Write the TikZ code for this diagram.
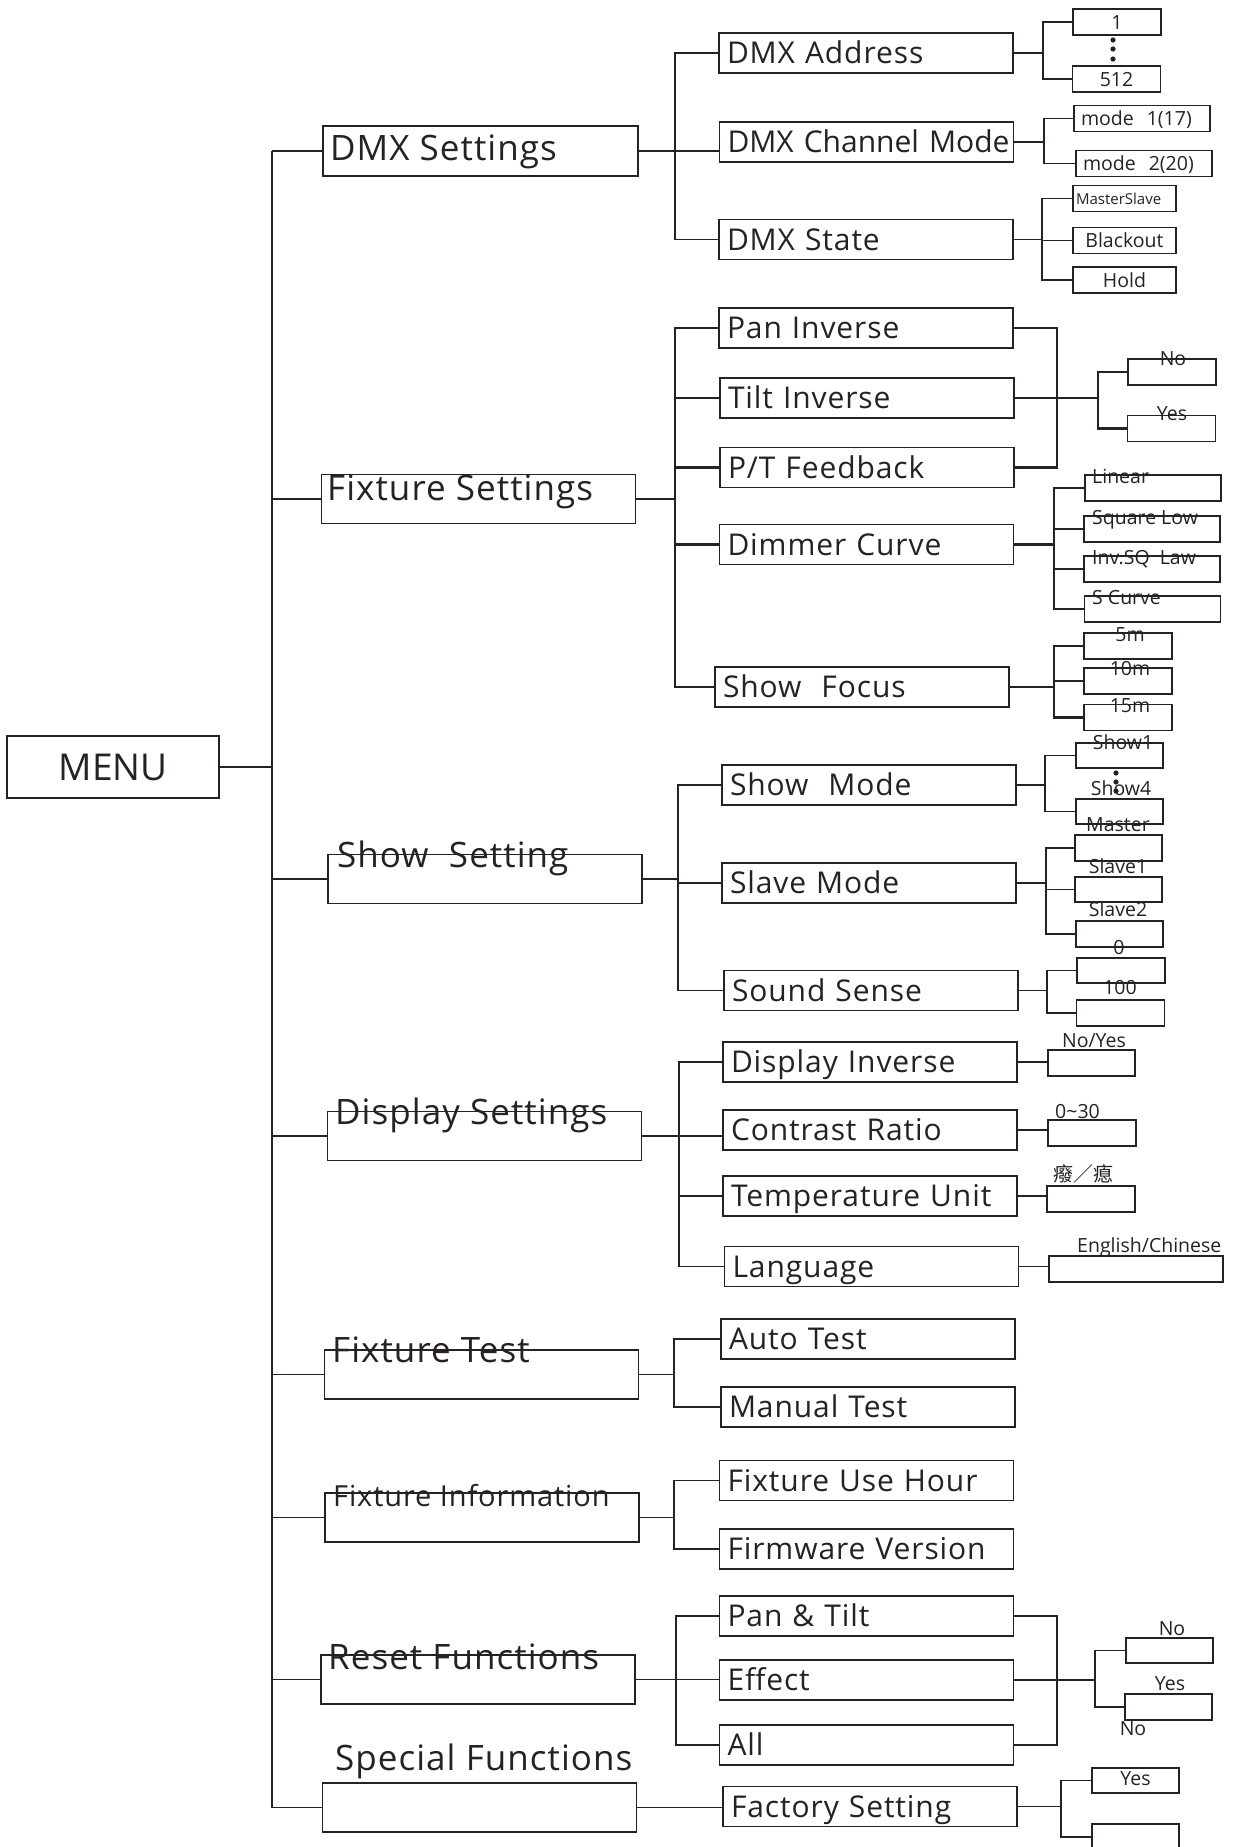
\documentclass[tikz,border=0pt]{standalone}
\usepackage{fontspec}
\setmainfont{Open Sans}
\newfontfamily\cjk{Noto Sans CJK SC}
\newfontfamily\trackfont[LetterSpace=3]{Open Sans}
\definecolor{ink}{RGB}{38,33,34}

\newcommand{\valfont}{\fontsize{19.5}{23}\selectfont}
\newcommand{\grpfont}{\trackfont\fontsize{35}{42}\selectfont}
\newcommand{\itemfont}{\trackfont\fontsize{30}{36}\selectfont}

\tikzset{
  menubox/.style={draw, line width=1.8pt, minimum width=212pt, minimum height=62pt, inner sep=0pt, font=\fontsize{37}{44}\selectfont},
  grpbox/.style={draw, line width=1.8pt, minimum width=314pt, minimum height=49pt, inner sep=0pt},
  grptext/.style={anchor=west, inner sep=0pt, text height=25pt, text depth=0pt, font=\grpfont},
  itembox/.style={draw, line width=1.8pt, minimum width=294pt, minimum height=40pt, text width=278pt, inner xsep=8pt, inner ysep=0pt, align=left, text height=21pt, text depth=0pt, font=\itemfont},
  valbox/.style={draw, line width=1.6pt, minimum width=88pt, minimum height=26pt, inner sep=0pt, text height=14pt, text depth=0pt, font=\valfont},
  widebox/.style={valbox, minimum width=136pt, text width=122pt, inner xsep=7pt, align=left},
  valtext/.style={inner sep=0pt, text height=14pt, text depth=0pt, font=\valfont},
  wire/.style={line width=1.8pt},
  bold wire/.style={line width=2.8pt},
}

\begin{document}
\begin{tikzpicture}[x=1pt, y=-1pt, color=ink]
    \useasboundingbox (0,0) rectangle (1234,1847);

    % root and first level
    \node[menubox] (menu) at (113,767) {MENU};
    \coordinate (trunk) at (272,0);

    \node[grpbox, minimum width=315pt, minimum height=50pt] (dmx) at (480.5,151) {};
    \node[grpbox] (fix)     at (478.5,499) {};
    \node[grpbox] (show)    at (485,879) {};
    \node[grpbox] (disp)    at (484.5,1136) {};
    \node[grpbox] (test)    at (481.5,1374.5) {};
    \node[grpbox] (info)    at (482,1517.5) {};
    \node[grpbox] (reset)   at (478,1679.5) {};
    \node[grpbox] (special) at (479.5,1807.5) {};

    \node[grptext] (dmxlbl)     at (330,148)  {DMX Settings};
    \node[grptext] (fixlbl)     at (327,488)  {Fixture Settings};
    \node[grptext] (showlbl)    at (337,855)  {Show\ \ Setting};
    \node[grptext] (displbl)    at (335,1112) {Display Settings};
    \node[grptext] (testlbl)    at (332,1350) {Fixture Test};
    \node[grptext, text height=21pt, font=\trackfont\fontsize{29}{35}\selectfont] (infolbl) at (333,1496) {Fixture Information};
    \node[grptext] (resetlbl)   at (328,1657) {Reset Functions};
    \node[grptext] (speciallbl) at (335,1758) {Special Functions};

    \draw[bold wire] (menu.east) -- (menu.east -| trunk);
    \draw[wire] (dmx.west -| trunk) -- (special.west -| trunk);
    \draw[wire] (dmx.west) -- (dmx.west -| trunk);
    \draw[wire] (fix.west) -- (fix.west -| trunk);
    \draw[wire] (show.west) -- (show.west -| trunk);
    \draw[wire] (disp.west) -- (disp.west -| trunk);
    \draw[wire] (test.west) -- (test.west -| trunk);
    \draw[wire] (info.west) -- (info.west -| trunk);
    \draw[wire] (reset.west) -- (reset.west -| trunk);
    \draw[wire] (special.west) -- (special.west -| trunk);

    % second level
    \node[itembox] (addr)   at (866,53)    {DMX Address};
    \node[itembox, font=\fontsize{30}{36}\selectfont] (chmode) at (866.5,142) {\mbox{DMX Channel Mode}};
    \node[itembox] (state)  at (866,239.5) {DMX State};

    \node[itembox] (pan)    at (866,328)   {Pan Inverse};
    \node[itembox] (tilt)   at (867,398)   {Tilt Inverse};
    \node[itembox] (ptfb)   at (867,467.5) {P/T Feedback};
    \node[itembox] (dimmer) at (866.5,544.5) {Dimmer Curve};
    \node[itembox] (focus)  at (862,687)   {Show\ \ Focus};

    \node[itembox] (smode)  at (869,785)   {Show\ \ Mode};
    \node[itembox] (slave)  at (869,883)   {Slave Mode};
    \node[itembox] (sound)  at (871,990.5) {Sound Sense};

    \node[itembox] (dinv)     at (870,1062)  {Display Inverse};
    \node[itembox] (contrast) at (870,1130)  {Contrast Ratio};
    \node[itembox] (temp)     at (870,1196)  {Temperature Unit};
    \node[itembox] (lang)     at (871.5,1266.5) {Language};

    \node[itembox] (auto)   at (868,1339)   {Auto Test};
    \node[itembox] (manual) at (868,1407)   {Manual Test};
    \node[itembox] (hour)   at (866.5,1480.5) {Fixture Use Hour};
    \node[itembox] (firm)   at (866.5,1549) {Firmware Version};
    \node[itembox] (pt)     at (866.5,1616) {Pan \& Tilt};
    \node[itembox] (effect) at (866.5,1680) {Effect};
    \node[itembox] (all)    at (866.5,1745) {All};
    \node[itembox] (factory) at (870,1806.5) {Factory Setting};

    \coordinate (dmxbus) at (675,0);
    \draw[wire] (addr.west) -- (addr.west -| dmxbus) -- (state.west -| dmxbus) -- (state.west);
    \draw[wire] (dmx.east) -- (dmx.east -| chmode.west);

    \coordinate (fixbus) at (675,0);
    \draw[bold wire] (pan.west) -- (pan.west -| fixbus) -- (focus.west -| fixbus) -- (focus.west);
    \draw[bold wire] (tilt.west) -- (tilt.west -| fixbus);
    \draw[bold wire] (ptfb.west) -- (ptfb.west -| fixbus);
    \draw[bold wire] (dimmer.west) -- (dimmer.west -| fixbus);
    \draw[bold wire] (fix.east) -- (fix.east -| fixbus);

    \coordinate (showbus) at (678,0);
    \draw[wire] (smode.west) -- (smode.west -| showbus) -- (sound.west -| showbus) -- (sound.west);
    \draw[wire] (slave.west) -- (slave.west -| showbus);
    \draw[wire] (show.east) -- (show.east -| showbus);

    \coordinate (dispbus) at (679,0);
    \draw[wire] (dinv.west) -- (dinv.west -| dispbus) -- (lang.west -| dispbus) -- (lang.west);
    \draw[wire] (temp.west) -- (temp.west -| dispbus);
    \draw[wire] (disp.east) -- (disp.east -| contrast.west);

    \coordinate (testbus) at (674,0);
    \draw[wire] (auto.west) -- (auto.west -| testbus) -- (manual.west -| testbus) -- (manual.west);
    \draw[wire] (test.east) -- (test.east -| testbus);

    \draw[wire] (hour.west) -- (hour.west -| testbus) -- (firm.west -| testbus) -- (firm.west);
    \draw[wire] (info.east) -- (info.east -| testbus);

    \coordinate (resetbus) at (676,0);
    \draw[wire] (pt.west) -- (pt.west -| resetbus) -- (all.west -| resetbus) -- (all.west);
    \draw[wire] (reset.east) -- (reset.east -| effect.west);

    \draw[wire] (special.east) -- (special.east -| factory.west);

    % third level: DMX
    \node[valbox] (one)  at (1117,22)   {1};
    \node[valbox] (five) at (1116.5,79) {512};
    \fill (1113,40) circle (2.6);
    \fill (1113,49) circle (2.6);
    \fill (1113,59) circle (2.6);
    \coordinate (addrbus) at (1043,0);
    \draw[wire] (addr.east) -- (addr.east -| addrbus);
    \draw[wire] (one.west) -- (one.west -| addrbus) -- (five.west -| addrbus) -- (five.west);

    \node[widebox] (mode1) at (1142,118.5) {mode\ \ 1(17)};
    \node[widebox] (mode2) at (1144,163.5) {mode\ \ 2(20)};
    \coordinate (chbus) at (1044,0);
    \draw[wire] (chmode.east) -- (chmode.east -| chbus);
    \draw[wire] (mode1.west) -- (mode1.west -| chbus) -- (mode2.west -| chbus) -- (mode2.west);

    \node[valbox, minimum width=103pt, text width=97pt, inner xsep=3pt, align=left, text height=11pt, font=\fontsize{15}{18}\selectfont] (msl) at (1124.5,198.5) {MasterSlave};
    \node[valbox, minimum width=103pt] (black) at (1124.5,240.5) {Blackout};
    \node[valbox, minimum width=103pt] (hold)  at (1124.5,280)   {Hold};
    \coordinate (statebus) at (1042,0);
    \draw[wire] (state.east) -- (state.east -| statebus);
    \draw[wire] (msl.west) -- (msl.west -| statebus) -- (hold.west -| statebus) -- (hold.west);
    \draw[wire] (black.west) -- (black.west -| statebus);

    % third level: Fixture
    \coordinate (ptbus) at (1057,0);
    \coordinate (ynbus) at (1098,0);
    \node[valbox] (no1)  at (1172,372)    {};
    \node[valbox] (yes1) at (1171.5,428.5) {};
    \node[valtext] (no1lbl)  at (1173,358) {No};
    \node[valtext] (yes1lbl) at (1172,413) {Yes};
    \draw[bold wire] (pan.east) -- (pan.east -| ptbus) -- (ptfb.east -| ptbus) -- (ptfb.east);
    \draw[bold wire] (tilt.east) -- (tilt.east -| ynbus);
    \draw[bold wire] (no1.west) -- (no1.west -| ynbus) -- (yes1.west -| ynbus) -- (yes1.west);

    \coordinate (curvebus) at (1054,0);
    \node[valbox, minimum width=136pt] (lin)  at (1153,488)   {};
    \node[valbox, minimum width=136pt] (sql)  at (1152,529)   {};
    \node[valbox, minimum width=136pt] (isq)  at (1152,569)   {};
    \node[valbox, minimum width=136pt] (scur) at (1152.5,609) {};
    \node[valtext, anchor=west] (linlbl)  at (1092,476) {Linear};
    \node[valtext, anchor=west] (sqllbl)  at (1092,517) {Square Low};
    \node[valtext, anchor=west] (isqlbl)  at (1092,557) {Inv.SQ\ \ Law};
    \node[valtext, anchor=west] (scurlbl) at (1092,597) {S Curve};
    \draw[bold wire] (dimmer.east) -- (dimmer.east -| curvebus);
    \draw[bold wire] (lin.west) -- (lin.west -| curvebus) -- (scur.west -| curvebus) -- (scur.west);
    \draw[bold wire] (sql.west) -- (sql.west -| curvebus);
    \draw[bold wire] (isq.west) -- (isq.west -| curvebus);

    \node[valbox] (f5)  at (1128,646)   {};
    \node[valbox] (f10) at (1128,681)   {};
    \node[valbox] (f15) at (1128,717.5) {};
    \node[valtext] (f5lbl)  at (1130,634) {5m};
    \node[valtext] (f10lbl) at (1130,668) {10m};
    \node[valtext] (f15lbl) at (1130,705) {15m};
    \draw[bold wire] (focus.east) -- (focus.east -| curvebus);
    \draw[bold wire] (f5.west) -- (f5.west -| curvebus) -- (f15.west -| curvebus) -- (f15.west);
    \draw[bold wire] (f10.west) -- (f10.west -| curvebus);

    % third level: Show
    \coordinate (smbus) at (1045,0);
    \node[valbox, minimum width=87pt, minimum height=25pt] (sh1) at (1119.5,755.5) {};
    \node[valbox, minimum width=87pt, minimum height=25pt] (sh4) at (1119.5,811.5) {};
    \node[valtext] (sh1lbl) at (1123,742) {Show1};
    \node[valtext] (sh4lbl) at (1121,788) {Show4};
    \fill (1116,773) circle (2.6);
    \fill (1116,782) circle (2.6);
    \fill (1116,791) circle (2.6);
    \draw[wire] (smode.east) -- (smode.east -| smbus);
    \draw[wire] (sh1.west) -- (sh1.west -| smbus) -- (sh4.west -| smbus) -- (sh4.west);

    \coordinate (slbus) at (1046,0);
    \node[valbox, minimum width=87pt] (mst) at (1118.5,848) {};
    \node[valbox, minimum width=87pt, minimum height=25pt] (sl1) at (1118.5,889.5) {};
    \node[valbox, minimum width=87pt] (sl2) at (1119.5,934) {};
    \node[valtext] (mstlbl) at (1118,824) {Master};
    \node[valtext] (sl1lbl) at (1118,866) {Slave1};
    \node[valtext] (sl2lbl) at (1118,909) {Slave2};
    \draw[wire] (slave.east) -- (slave.east -| slbus);
    \draw[wire] (mst.west) -- (mst.west -| slbus) -- (sl2.west -| slbus) -- (sl2.west);
    \draw[wire] (sl1.west) -- (sl1.west -| slbus);

    \coordinate (ssbus) at (1047,0);
    \node[valbox, minimum height=25pt] (s0) at (1121,970.5) {};
    \node[valbox] (s100) at (1120.5,1013) {};
    \node[valtext] (s0lbl)   at (1119,947) {0};
    \node[valtext] (s100lbl) at (1120,987) {100};
    \draw[wire] (sound.east) -- (sound.east -| ssbus);
    \draw[wire] (s0.west) -- (s0.west -| ssbus) -- (s100.west -| ssbus) -- (s100.west);

    % third level: Display
    \node[valbox, minimum width=87pt] (ansinv)  at (1091.5,1063) {};
    \node[valbox] (anscon)  at (1092,1133) {};
    \node[valbox] (anstemp) at (1091,1199) {};
    \node[valbox, minimum width=174pt] (anslang) at (1136,1269) {};
    \node[valtext] (ansinvlbl) at (1094,1040) {No/Yes};
    \node[valtext, anchor=west] (ansconlbl)  at (1055,1111) {0\char`~30};
    \node[valtext, anchor=west, text height=17pt, font=\cjk\fontsize{20}{24}\selectfont] (anstemplbl) at (1053,1173) {癈／瘜};
    \node[valtext, anchor=west] (anslanglbl) at (1077,1245) {English/Chinese};
    \draw[wire] (dinv.east) -- (dinv.east -| ansinv.west);
    \draw[wire] (contrast.east) -- (contrast.east -| anscon.west);
    \draw[wire] (temp.east) -- (temp.east -| anstemp.west);
    \draw[wire] (lang.east) -- (lang.east -| anslang.west);

    % third level: Reset and Special
    \coordinate (rbus) at (1057,0);
    \coordinate (rynbus) at (1095,0);
    \node[valbox, minimum width=87pt, minimum height=25pt] (no2) at (1169.5,1650.5) {};
    \node[valbox, minimum width=87pt] (yes2) at (1168.5,1707) {};
    \node[valtext] (no2lbl)  at (1172,1628) {No};
    \node[valtext] (yes2lbl) at (1170,1683) {Yes};
    \node[valtext] (no3lbl)  at (1133,1728) {No};
    \draw[wire] (pt.east) -- (pt.east -| rbus) -- (all.east -| rbus) -- (all.east);
    \draw[wire] (effect.east) -- (effect.east -| rynbus);
    \draw[wire] (no2.west) -- (no2.west -| rynbus) -- (yes2.west -| rynbus) -- (yes2.west);

    \coordinate (fbus) at (1061,0);
    \node[valbox, minimum width=87pt, minimum height=25pt, text height=10pt] (yes3) at (1135.5,1780.5) {Yes};
    \node[valbox, minimum width=87pt] (last) at (1135.5,1837) {};
    \draw[wire] (factory.east) -- (factory.east -| fbus);
    \draw[wire] (yes3.west) -- (yes3.west -| fbus) -- (last.west -| fbus) -- (last.west);

\end{tikzpicture}
\end{document}
